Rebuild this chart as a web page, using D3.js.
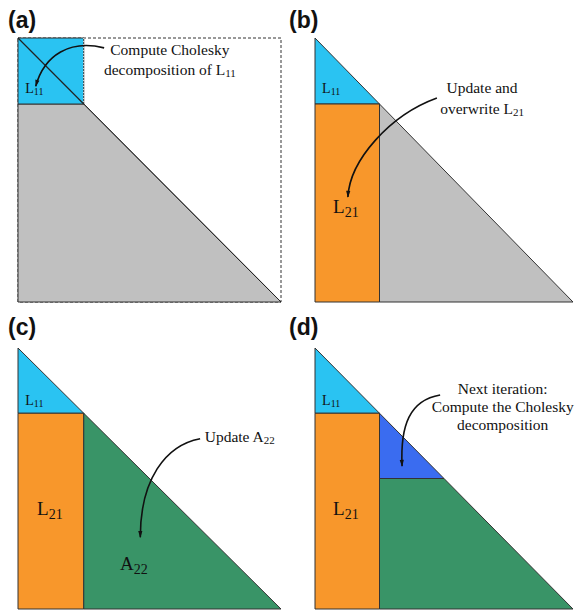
<!DOCTYPE html>
<html><head><meta charset="utf-8">
<script src="https://cdn.jsdelivr.net/npm/d3@7"></script>
<style>
html,body{margin:0;padding:0;background:#fff;}
svg{display:block;}
</style></head>
<body>
<script>
// ---- data (block units: 4x4 lower-triangular matrix, 1 unit per block) ----
const panelIds = ["a", "b", "c", "d"];
const panelLabels = ["(a)", "(b)", "(c)", "(d)"];
const nBlocks = 4;
// regions per panel: [name, polygon in block units]
const regionsA = [
  ["gray",  [[0,1],[1,1],[4,4],[0,4]]],
  ["blue",  [[0,0],[1,0],[1,1],[0,1]]]
];
const regionsB = [
  ["blue",   [[0,0],[1,1],[0,1]]],
  ["orange", [[0,1],[1,1],[1,4],[0,4]]],
  ["gray",   [[1,1],[4,4],[1,4]]]
];
const regionsC = [
  ["blue",   [[0,0],[1,1],[0,1]]],
  ["orange", [[0,1],[1,1],[1,4],[0,4]]],
  ["green",  [[1,1],[4,4],[1,4]]]
];
const regionsD = [
  ["blue",     [[0,0],[1,1],[0,1]]],
  ["orange",   [[0,1],[1,1],[1,4],[0,4]]],
  ["darkblue", [[1,1],[2,2],[1,2]]],
  ["green",    [[1,2],[2,2],[4,4],[1,4]]]
];
const panelRegions = [regionsA, regionsB, regionsC, regionsD];
// block labels: [main, subscript, u, v, size-class]
const blockLabelsA = [["L","11",0.11,0.83,"s"]];
const blockLabelsB = [["L","11",0.11,0.83,"s"],["L","21",0.28,2.65,"l"]];
const blockLabelsC = [["L","11",0.11,0.87,"s"],["L","21",0.29,2.56,"l"],["A","22",1.55,3.40,"l"]];
const blockLabelsD = [["L","11",0.11,0.87,"s"],["L","21",0.28,2.56,"l"]];
const panelBlockLabels = [blockLabelsA, blockLabelsB, blockLabelsC, blockLabelsD];
// annotation text lines: [[text parts], u, v, anchor]  (parts: [text, isSub])
const notesA = [[[["Compute Cholesky",0]],2.31,0.26],[[["decomposition of L",0],["11",1]],2.31,0.56]];
const notesB = [[[["Update and",0]],2.59,0.83],[[["overwrite L",0],["21",1]],2.59,1.15]];
const notesC = [[[["Update A",0],["22",1]],2.84,1.44,"start"]];
const notesD = [[[["Next iteration:",0]],2.91,0.70],[[["Compute the Cholesky",0]],2.91,0.98],[[["decomposition",0]],2.91,1.26]];
const panelNotes = [notesA, notesB, notesC, notesD];
// curved arrows: start, control1, control2, end (block units)
const arrowA = [[1.31,0.15],[0.80,0.02],[0.40,0.25],[0.27,0.73]];
const arrowB = [[1.89,0.91],[1.16,1.17],[0.54,1.85],[0.51,2.41]];
const arrowC = [[2.77,1.39],[2.24,1.49],[1.86,2.02],[1.86,2.90]];
const arrowD = [[1.94,0.72],[1.47,0.80],[1.32,1.18],[1.35,1.81]];
const panelArrows = [arrowA, arrowB, arrowC, arrowD];

// ---- styles / layout ----
const colors = {gray:"#c0c0c0", blue:"#2ac3f2", orange:"#f8972b", green:"#399467", darkblue:"#3a6cf0"};
const W = 577, H = 611;
const layout = [
  {x0:18,  y0:38,  w:263, h:264, lx:8,   ly:28},
  {x0:315, y0:38,  w:258, h:264, lx:289, ly:28},
  {x0:18,  y0:348, w:263, h:261, lx:8,   ly:335},
  {x0:315, y0:348, w:258, h:261, lx:289, ly:335}
];

const svg = d3.select("body").append("svg").attr("width", W).attr("height", H)
  .style("font-family", "'Liberation Serif', 'Times New Roman', serif");

svg.append("defs").append("marker")
  .attr("id","ah").attr("viewBox","0 0 10 10").attr("refX",9).attr("refY",5)
  .attr("markerWidth",8).attr("markerHeight",7).attr("orient","auto-start-reverse")
  .attr("markerUnits","userSpaceOnUse")
  .append("path").attr("d","M0,2 L10,5 L0,8 Z").attr("fill","#111");

panelIds.forEach((id, i) => {
  const L = layout[i];
  const x = d3.scaleLinear().domain([0, nBlocks]).range([L.x0, L.x0 + L.w]);
  const y = d3.scaleLinear().domain([0, nBlocks]).range([L.y0, L.y0 + L.h]);
  const g = svg.append("g").attr("class", "panel-" + id);
  const line = d3.line().x(d => x(d[0])).y(d => y(d[1]));

  if (id === "a") {
    g.append("rect").attr("x", x(0)).attr("y", y(0))
      .attr("width", x(nBlocks) - x(0)).attr("height", y(nBlocks) - y(0))
      .attr("fill", "none").attr("stroke", "#333").attr("stroke-width", 1)
      .attr("stroke-dasharray", "3,2");
  }
  g.selectAll("path.region").data(panelRegions[i]).enter().append("path")
    .attr("class", "region")
    .attr("d", d => line(d[1]) + "Z")
    .attr("fill", d => colors[d[0]])
    .attr("stroke", "#333").attr("stroke-width", 1).attr("stroke-linejoin", "miter");
  if (id === "a") {
    g.append("path").attr("d", line([[1,0],[1,1]])).attr("stroke", "#fff")
      .attr("stroke-width", 1).attr("stroke-dasharray", "1,2");
    g.append("path").attr("d", line([[0,0],[1,1]])).attr("stroke", "#222").attr("stroke-width", 1.2);
    g.append("path").attr("d", line([[1,1],[4,4]])).attr("stroke", "#222").attr("stroke-width", 1);
  }

  // block labels
  panelBlockLabels[i].forEach(b => {
    const big = b[4] === "l";
    const t = g.append("text").attr("x", x(b[2])).attr("y", y(b[3]))
      .attr("font-size", big ? 19 : 14).attr("fill", "#111");
    t.append("tspan").text(b[0]);
    t.append("tspan").attr("font-size", big ? 14 : 10).attr("dy", big ? 4 : 2).text(b[1]);
  });

  // annotation notes
  panelNotes[i].forEach(n => {
    const t = g.append("text").attr("x", x(n[1])).attr("y", y(n[2]))
      .attr("text-anchor", n[3] || "middle").attr("font-size", 15.5).attr("fill", "#111");
    n[0].forEach(p => {
      const s = t.append("tspan").text(p[0]);
      if (p[1]) s.attr("font-size", 11).attr("dy", 2);
    });
  });

  // curved arrow
  const a = panelArrows[i];
  const p = d3.path();
  p.moveTo(x(a[0][0]), y(a[0][1]));
  p.bezierCurveTo(x(a[1][0]), y(a[1][1]), x(a[2][0]), y(a[2][1]), x(a[3][0]), y(a[3][1]));
  g.append("path").attr("d", p.toString()).attr("fill", "none")
    .attr("stroke", "#111").attr("stroke-width", 1.6).attr("marker-end", "url(#ah)");

  // panel label
  svg.append("text").attr("x", L.lx).attr("y", L.ly).text(panelLabels[i])
    .attr("font-family", "'Liberation Sans', Arial, sans-serif").attr("font-weight", "bold")
    .attr("font-size", 23).attr("fill", "#111");
});
</script>
</body></html>
